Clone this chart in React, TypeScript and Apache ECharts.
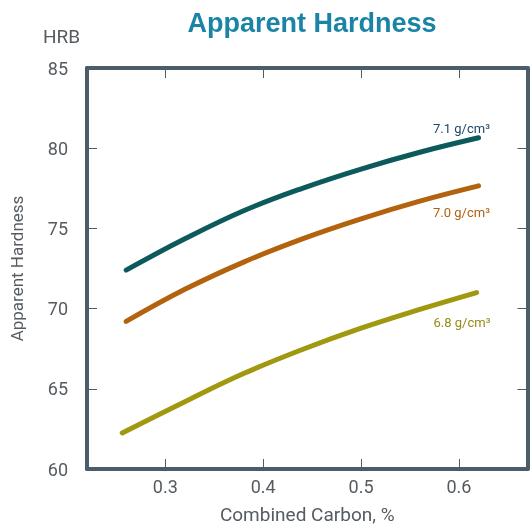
import React, { useEffect, useRef } from "react";
import * as echarts from "echarts";

const xTicks = [0.3, 0.4, 0.5, 0.6];
const carbon71 = [0.26, 0.32, 0.38, 0.44, 0.5, 0.56, 0.62];
const hard71 = [72.4, 74.35, 76.1, 77.5, 78.7, 79.75, 80.65];
const carbon70 = [0.26, 0.32, 0.38, 0.44, 0.5, 0.56, 0.62];
const hard70 = [69.2, 71.2, 72.9, 74.35, 75.6, 76.7, 77.65];
const carbon68 = [0.256, 0.32, 0.38, 0.44, 0.5, 0.56, 0.618];
const hard68 = [62.25, 64.2, 65.95, 67.45, 68.78, 69.95, 71.0];
const seriesNames = ["7.1 g/cm³", "7.0 g/cm³", "6.8 g/cm³"];

const frame = "#4b5d68";
const textGray = "#555b60";

export default function App() {
  const ref = useRef<HTMLDivElement>(null);
  useEffect(() => {
    const chart = echarts.init(ref.current!, null, { renderer: "svg" });
    const pair = (xs: number[], ys: number[]) => xs.map((x, i) => [x, ys[i]]);
    const lineSeries = (name: string, data: number[][], color: string) => ({
      name,
      type: "line",
      data,
      smooth: 0.4,
      showSymbol: false,
      symbol: "none",
      lineStyle: { color, width: 5, cap: "round" },
      xAxisIndex: 0,
      yAxisIndex: 0,
    });
    const axisCommon = {
      axisLine: { show: true, lineStyle: { color: frame, width: 4 } },
      axisTick: { show: true, inside: true, length: 10, lineStyle: { color: frame, width: 1 } },
      splitLine: { show: false },
    };
    chart.setOption({
      animation: false,
      textStyle: { fontFamily: "Roboto" },
      title: {
        text: "Apparent Hardness",
        left: 307,
        top: 4,
        textAlign: "center",
        textStyle: { fontFamily: "Liberation Sans", fontWeight: "bold", fontSize: 27, color: "#1a84a6" },
      },
      grid: { left: 86.5, right: 2.5, top: 68, bottom: 55 },
      xAxis: [
        {
          type: "value",
          min: 0.22,
          max: 0.67,
          position: "bottom",
          ...axisCommon,
          axisTick: { ...axisCommon.axisTick, customValues: xTicks },
          axisLabel: { customValues: xTicks, color: textGray, fontSize: 18, margin: 8, formatter: (v: number) => v.toFixed(1) },
          name: "Combined Carbon, %",
          nameLocation: "middle",
          nameGap: 36,
          nameTextStyle: { color: textGray, fontSize: 19 },
        },
        {
          type: "value",
          min: 0.22,
          max: 0.67,
          position: "top",
          ...axisCommon,
          axisTick: { ...axisCommon.axisTick, customValues: xTicks },
          axisLabel: { show: false },
        },
      ],
      yAxis: [
        {
          type: "value",
          min: 60,
          max: 85,
          interval: 5,
          position: "left",
          ...axisCommon,
          axisLabel: { color: textGray, fontSize: 18, margin: 19 },
          name: "Apparent Hardness",
          nameLocation: "middle",
          nameGap: 62,
          nameRotate: 90,
          nameTextStyle: { color: textGray, fontSize: 17 },
        },
        {
          type: "value",
          min: 60,
          max: 85,
          interval: 5,
          position: "right",
          ...axisCommon,
          axisLabel: { show: false },
        },
      ],
      graphic: [
        { type: "text", left: 43, top: 27, style: { text: "HRB", fill: textGray, font: "19px Roboto" } },
        { type: "text", x: 461.5, y: 128, style: { text: seriesNames[0], fill: "#1d4668", font: "13px Roboto", align: "center", verticalAlign: "middle" } },
        { type: "text", x: 461.5, y: 212, style: { text: seriesNames[1], fill: "#b0600f", font: "13px Roboto", align: "center", verticalAlign: "middle" } },
        { type: "text", x: 462, y: 322, style: { text: seriesNames[2], fill: "#958b18", font: "13px Roboto", align: "center", verticalAlign: "middle" } },
      ],
      series: [
        lineSeries(seriesNames[0], pair(carbon71, hard71), "#0c5a5c"),
        lineSeries(seriesNames[1], pair(carbon70, hard70), "#b3630e"),
        lineSeries(seriesNames[2], pair(carbon68, hard68), "#a0980e"),
      ],
    });
    return () => chart.dispose();
  }, []);
  return <div ref={ref} style={{ position: "fixed", left: 0, top: 0, width: 530, height: 529 }} />;
}
